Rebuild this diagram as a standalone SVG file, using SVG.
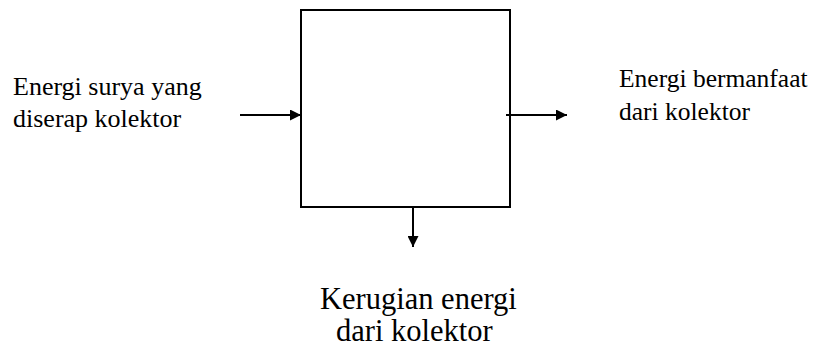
<svg xmlns="http://www.w3.org/2000/svg" width="818" height="349" viewBox="0 0 818 349">
<style>
.t{font-family:"Liberation Serif","Times New Roman",serif;fill:#000}
.s{font-size:26px}
.r{font-size:25.5px}
.b{font-size:30.5px}
.ln{stroke:#000;stroke-width:2;fill:none}
</style>
<defs>
<marker id="ah" viewBox="0 0 10 10" refX="10" refY="5" markerWidth="12" markerHeight="11" markerUnits="userSpaceOnUse" orient="auto">
<path d="M0,0 L10,5 L0,10 Z" fill="#000"/>
</marker>
</defs>
<rect width="818" height="349" fill="#fff"/>
<g id="box"><rect x="301" y="10" width="209" height="197" class="ln"/></g>
<g id="connectors">
<line x1="240" y1="115" x2="301" y2="115" class="ln" marker-end="url(#ah)"/>
<line x1="506" y1="115" x2="567" y2="115" class="ln" marker-end="url(#ah)"/>
<line x1="413" y1="207" x2="413" y2="247" class="ln" marker-end="url(#ah)"/>
</g>
<g id="input"><text class="t s" x="13" y="95">Energi surya yang</text><text class="t s" x="13" y="127">diserap kolektor</text></g>
<g id="output"><text class="t r" x="619" y="87">Energi bermanfaat</text><text class="t r" x="619" y="120">dari kolektor</text></g>
<g id="loss"><text class="t b" x="320" y="309">Kerugian energi</text><text class="t b" x="336" y="341">dari kolektor</text></g>
</svg>
